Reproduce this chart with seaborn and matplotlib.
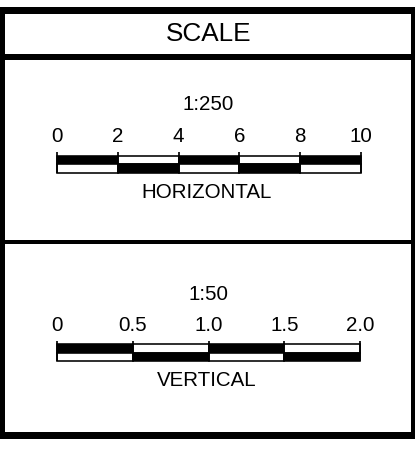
import matplotlib
matplotlib.use("Agg")
import matplotlib.pyplot as plt
import seaborn as sns

# scale bar data
title = "SCALE"
h_ratio = "1:250"
h_name = "HORIZONTAL"
h_ticks = [0, 2, 4, 6, 8, 10]
h_labels = ["0", "2", "4", "6", "8", "10"]

v_ratio = "1:50"
v_name = "VERTICAL"
v_ticks = [0, 0.5, 1.0, 1.5, 2.0]
v_labels = ["0", "0.5", "1.0", "1.5", "2.0"]

W, H = 415, 450
DPI = 100
PX = 72 / DPI  # one pixel in points

sns.set_style("white")
plt.rcParams["font.family"] = ["Liberation Sans", "DejaVu Sans"]
plt.rcParams["text.color"] = "black"

fig = plt.figure(figsize=(W / DPI, H / DPI), dpi=DPI)
frame = fig.add_axes([0, 0, 1, 1])
frame.set_xlim(0, W)
frame.set_ylim(H, 0)
frame.axis("off")

# outer box and separators
bx0, by0, bx1, by1 = 1, 10, 414, 435
frame.plot([bx0, bx1, bx1, bx0, bx0], [by0, by0, by1, by1, by0],
           color="black", lw=7 * PX, solid_joinstyle="miter", clip_on=False)
frame.plot([bx0, bx1], [56.5, 56.5], color="black", lw=6 * PX)
frame.plot([bx0, bx1], [242, 242], color="black", lw=4 * PX)

frame.text(209, 34, title, ha="center", va="center", fontsize=18.8)


def scale_bar(ticks, labels, ratio, name, x0, x1, y_bottom, y_top, ytop_units,
              y_ratio, y_name):
    ax = fig.add_axes([x0 / W, 1 - y_bottom / H, (x1 - x0) / W,
                       (y_bottom - y_top) / H])
    ax.set_xlim(ticks[0], ticks[-1])
    ax.set_ylim(0, ytop_units)
    ax.axis("off")
    lefts = ticks[:-1]
    widths = [b - a for a, b in zip(ticks[:-1], ticks[1:])]
    upper = ["black" if i % 2 == 0 else "white" for i in range(len(lefts))]
    lower = ["white" if i % 2 == 0 else "black" for i in range(len(lefts))]
    ax.bar(lefts, 1, width=widths, bottom=1, align="edge", color=upper,
           edgecolor="black", linewidth=1.6 * PX, clip_on=False)
    ax.bar(lefts, 1, width=widths, bottom=0, align="edge", color=lower,
           edgecolor="black", linewidth=1.6 * PX, clip_on=False)
    ax.vlines(ticks, 0, ytop_units, color="black", lw=1.7 * PX, clip_on=False)
    for t, lab in zip(ticks, labels):
        ax.annotate(lab, (t, ytop_units), xytext=(0, 15 * PX),
                    textcoords="offset points", ha="center", va="center",
                    fontsize=14.8, annotation_clip=False)
    frame.text(208, y_ratio, ratio, ha="center", va="center", fontsize=14.8)
    frame.text(207, y_name, name, ha="center", va="center", fontsize=14.8)


scale_bar(h_ticks, h_labels, h_ratio, h_name, 57, 361, 173, 151.7, 2.5, 105, 193)
scale_bar(v_ticks, v_labels, v_ratio, v_name, 57, 360, 361, 340.7, 2.4, 294, 380)

fig.savefig("out.png", dpi=DPI)
